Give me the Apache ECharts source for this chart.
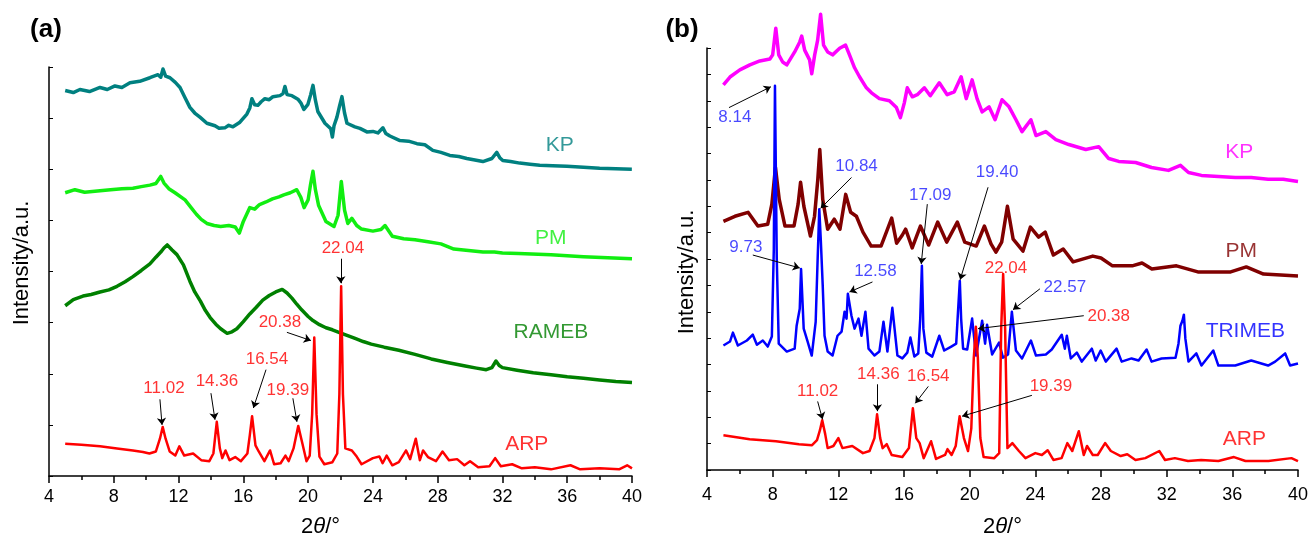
<!DOCTYPE html>
<html><head><meta charset="utf-8">
<script src="https://cdn.jsdelivr.net/npm/echarts@6/dist/echarts.min.js"></script>
<style>html,body{margin:0;padding:0;background:#fff}#c{width:1311px;height:543px}</style>
</head><body><div id="c"></div>
<script>
// ---------- DATA (2θ in degrees, intensity in a.u.) ----------
const xTicks = [4, 8, 12, 16, 20, 24, 28, 32, 36, 40];
// Panel (a)
const aKP = [[5.0,7.54],[5.5,7.5],[5.91,7.56],[6.5,7.52],[7.15,7.6],[7.6,7.56],[8.07,7.63],[8.5,7.6],[9.0,7.69],[9.6,7.72],[10.23,7.79],[10.73,7.85],[10.9,7.8],[11.04,7.96],[11.2,7.82],[11.47,7.79],[11.8,7.7],[12.09,7.6],[12.4,7.4],[12.7,7.21],[13.0,7.1],[13.32,7.02],[13.75,6.9],[14.25,6.85],[14.5,6.8],[14.86,6.81],[15.1,6.86],[15.36,6.83],[15.79,6.92],[16.22,7.08],[16.4,7.2],[16.53,7.38],[16.7,7.26],[16.9,7.25],[17.1,7.32],[17.33,7.38],[17.6,7.36],[17.83,7.42],[18.26,7.44],[18.45,7.48],[18.57,7.62],[18.7,7.46],[19.0,7.44],[19.37,7.37],[19.55,7.3],[19.74,7.17],[19.99,7.27],[20.15,7.45],[20.3,7.64],[20.45,7.35],[20.6,7.13],[21.04,6.9],[21.4,6.79],[21.5,6.63],[21.6,6.85],[21.78,7.02],[21.95,7.25],[22.09,7.42],[22.25,7.1],[22.4,6.9],[22.89,6.83],[23.2,6.8],[23.63,6.73],[24.0,6.74],[24.31,6.71],[24.62,6.81],[24.8,6.7],[25.05,6.65],[25.67,6.56],[26.2,6.55],[26.72,6.5],[27.21,6.48],[27.7,6.37],[28.2,6.33],[28.75,6.27],[29.3,6.25],[29.8,6.21],[30.3,6.18],[30.79,6.15],[31.35,6.21],[31.65,6.33],[31.85,6.22],[32.02,6.17],[32.5,6.15],[33.07,6.12],[33.7,6.1],[34.3,6.08],[35.1,6.07],[35.98,6.06],[37.0,6.04],[38.0,6.02],[39.0,6.01],[39.99,6.0]];
const aPM = [[5.0,5.54],[5.6,5.6],[6.2,5.55],[7.15,5.58],[7.8,5.6],[8.5,5.62],[9.18,5.63],[9.7,5.66],[10.23,5.69],[10.6,5.72],[10.9,5.86],[11.1,5.73],[11.4,5.62],[11.78,5.54],[12.4,5.4],[12.8,5.24],[13.1,5.12],[13.4,5.02],[13.75,4.94],[14.2,4.9],[14.6,4.88],[15.1,4.9],[15.5,4.87],[15.75,4.75],[16.0,4.98],[16.4,5.25],[16.7,5.22],[17.0,5.31],[17.4,5.36],[17.8,5.42],[18.2,5.46],[18.5,5.5],[18.9,5.54],[19.3,5.6],[19.55,5.45],[19.75,5.25],[20.0,5.4],[20.15,5.7],[20.3,5.96],[20.45,5.6],[20.65,5.29],[21.1,4.98],[21.6,4.88],[21.85,5.1],[22.05,5.76],[22.25,5.2],[22.45,4.94],[22.7,5.04],[23.0,4.9],[23.3,4.83],[24.0,4.79],[24.5,4.82],[24.75,4.9],[25.2,4.69],[25.9,4.64],[26.6,4.62],[27.4,4.58],[28.2,4.54],[29.0,4.44],[29.9,4.41],[30.8,4.38],[31.5,4.38],[32.0,4.36],[33.0,4.35],[35.0,4.33],[37.0,4.29],[38.5,4.27],[40.0,4.25]];
const aRAMEB = [[5.0,3.33],[5.5,3.45],[6.1,3.52],[6.6,3.55],[7.15,3.6],[7.7,3.64],[8.2,3.71],[8.7,3.8],[9.18,3.9],[9.7,4.02],[10.23,4.15],[10.6,4.28],[10.9,4.38],[11.1,4.46],[11.3,4.52],[11.6,4.42],[11.9,4.33],[12.3,4.13],[12.7,3.81],[13.0,3.6],[13.35,3.42],[13.65,3.24],[13.95,3.1],[14.3,2.97],[14.6,2.88],[15.0,2.79],[15.3,2.82],[15.6,2.88],[16.0,3.02],[16.4,3.17],[16.8,3.3],[17.2,3.44],[17.6,3.53],[18.0,3.6],[18.4,3.65],[18.7,3.58],[19.0,3.48],[19.3,3.36],[19.6,3.25],[20.0,3.12],[20.3,3.04],[20.7,2.96],[21.1,2.9],[21.5,2.86],[21.9,2.81],[22.4,2.75],[22.9,2.69],[23.4,2.63],[23.9,2.58],[24.7,2.52],[25.6,2.46],[26.6,2.38],[27.6,2.29],[28.6,2.22],[29.7,2.15],[30.4,2.11],[31.0,2.08],[31.35,2.12],[31.6,2.25],[31.8,2.16],[32.0,2.12],[32.9,2.07],[33.9,2.02],[35.0,1.98],[36.0,1.94],[37.0,1.91],[38.0,1.88],[39.0,1.85],[40.0,1.83]];
const aARP = [[5.0,0.63],[6.0,0.61],[7.15,0.58],[8.2,0.54],[9.18,0.5],[9.8,0.47],[10.2,0.44],[10.6,0.48],[10.85,0.73],[11.02,0.96],[11.2,0.73],[11.45,0.48],[11.8,0.4],[12.05,0.58],[12.35,0.4],[12.9,0.44],[13.4,0.31],[13.9,0.29],[14.15,0.44],[14.36,1.06],[14.55,0.54],[14.7,0.35],[14.9,0.5],[15.15,0.31],[15.5,0.37],[15.85,0.29],[16.25,0.44],[16.4,0.8],[16.54,1.17],[16.75,0.6],[16.95,0.48],[17.3,0.29],[17.65,0.5],[17.9,0.23],[18.3,0.25],[18.6,0.4],[18.8,0.29],[19.1,0.54],[19.39,0.98],[19.65,0.63],[19.9,0.29],[20.1,0.4],[20.25,1.21],[20.38,2.71],[20.52,1.21],[20.7,0.38],[21.0,0.23],[21.5,0.27],[21.8,0.44],[21.93,1.6],[22.04,3.71],[22.15,1.6],[22.3,0.54],[22.7,0.5],[23.0,0.38],[23.3,0.23],[24.0,0.35],[24.4,0.38],[24.6,0.25],[24.85,0.4],[25.2,0.21],[25.6,0.27],[26.05,0.5],[26.3,0.33],[26.65,0.73],[26.9,0.31],[27.1,0.5],[27.4,0.37],[27.9,0.29],[28.3,0.48],[28.7,0.31],[29.2,0.33],[29.65,0.21],[30.0,0.29],[30.5,0.17],[31.2,0.19],[31.55,0.35],[31.9,0.19],[32.6,0.23],[33.2,0.15],[34.0,0.17],[35.0,0.13],[36.2,0.21],[36.8,0.13],[38.0,0.15],[39.2,0.13],[39.7,0.21],[40.0,0.15]];
// Panel (b)
const bKP = [[5.0,14.6],[5.4,14.9],[6.0,15.17],[6.61,15.36],[7.22,15.51],[7.83,15.58],[8.0,15.74],[8.19,16.75],[8.37,15.74],[8.61,15.47],[8.86,15.36],[9.34,15.85],[9.65,16.23],[9.77,16.45],[9.95,15.92],[10.25,15.55],[10.38,15.02],[10.56,15.74],[10.74,16.3],[10.92,17.28],[11.1,16.11],[11.35,15.85],[11.65,15.74],[12.08,15.99],[12.44,16.11],[12.68,15.74],[12.99,15.25],[13.29,14.91],[13.71,14.49],[14.02,14.3],[14.5,14.08],[15.11,14.0],[15.54,13.74],[15.78,13.36],[16.02,13.92],[16.2,14.49],[16.51,14.15],[16.81,14.23],[17.24,14.49],[17.6,14.19],[18.15,14.68],[18.63,14.23],[19.06,14.34],[19.48,14.91],[19.79,14.08],[20.15,14.79],[20.45,14.08],[20.76,13.58],[21.18,13.77],[21.55,13.28],[21.97,14.04],[22.4,13.77],[22.82,13.28],[23.19,12.83],[23.73,13.28],[24.04,12.68],[24.64,12.83],[25.25,12.53],[26.04,12.34],[27.07,12.15],[27.86,12.26],[28.47,11.81],[29.08,11.7],[30.11,11.66],[31.08,11.47],[32.11,11.36],[32.84,11.55],[33.33,11.28],[34.12,11.17],[35.15,11.13],[36.18,11.09],[37.15,11.09],[38.18,11.02],[39.1,11.02],[40.0,10.94]];
const bPM = [[5.0,9.43],[5.7,9.62],[6.5,9.77],[7.1,9.25],[7.7,9.32],[7.95,10.08],[8.17,11.47],[8.4,10.26],[8.75,9.25],[9.3,9.25],[9.55,10.08],[9.7,10.91],[9.9,10.0],[10.3,8.87],[10.55,9.62],[10.75,11.02],[10.87,12.15],[11.05,10.26],[11.35,9.13],[11.75,9.51],[12.1,9.13],[12.45,10.45],[12.75,9.77],[13.1,9.62],[13.5,9.02],[14.0,8.49],[14.6,8.49],[14.95,9.06],[15.25,9.55],[15.55,8.6],[15.9,8.91],[16.1,9.13],[16.5,8.42],[17.0,9.25],[17.5,8.53],[18.05,9.4],[18.6,8.64],[19.25,9.4],[19.7,8.64],[20.4,8.49],[20.9,9.25],[21.3,8.57],[21.6,8.26],[21.95,8.64],[22.3,10.0],[22.65,8.75],[23.25,8.3],[23.7,9.21],[24.2,8.83],[24.6,9.02],[25.1,8.15],[25.7,8.38],[26.3,7.89],[27.5,8.11],[28.0,8.04],[28.7,7.74],[29.9,7.74],[30.5,7.85],[31.1,7.62],[32.6,7.74],[33.9,7.51],[35.9,7.51],[36.85,7.7],[37.9,7.43],[40.0,7.36]];
const bTRIMEB = [[5.0,4.72],[5.4,4.87],[5.58,5.21],[5.88,4.72],[6.43,4.91],[6.79,5.13],[7.04,4.75],[7.4,4.91],[7.7,4.68],[7.95,5.06],[8.07,8.38],[8.14,14.57],[8.25,8.0],[8.37,4.79],[8.86,4.49],[9.34,4.6],[9.46,5.47],[9.65,6.11],[9.73,7.62],[9.89,5.36],[10.13,4.87],[10.38,4.34],[10.62,5.62],[10.74,8.0],[10.84,9.89],[10.93,8.75],[11.05,6.98],[11.16,5.09],[11.35,4.49],[11.65,4.34],[11.95,5.09],[12.2,5.25],[12.38,6.0],[12.5,5.74],[12.58,6.68],[12.8,5.85],[12.99,5.36],[13.23,5.74],[13.41,5.09],[13.65,6.0],[13.84,4.6],[14.2,4.34],[14.5,4.49],[14.75,5.62],[14.99,4.49],[15.29,6.15],[15.6,4.34],[15.9,4.23],[16.2,4.45],[16.39,5.02],[16.63,4.3],[16.87,4.42],[16.99,5.74],[17.09,7.74],[17.18,5.36],[17.36,4.45],[17.72,4.3],[18.15,5.09],[18.45,4.53],[18.88,4.68],[19.18,4.79],[19.3,6.11],[19.4,7.17],[19.48,5.74],[19.6,4.6],[19.85,4.57],[20.15,5.74],[20.39,4.34],[20.76,5.66],[20.94,4.79],[21.06,5.51],[21.37,4.38],[21.79,4.83],[22.03,4.26],[22.34,4.38],[22.57,6.0],[22.82,4.53],[23.19,4.23],[23.73,4.91],[24.04,4.34],[24.64,4.38],[25.0,4.57],[25.61,5.13],[25.8,4.6],[25.92,5.09],[26.16,4.23],[26.53,4.45],[26.83,4.11],[27.44,4.6],[27.68,4.15],[27.98,4.53],[28.29,4.11],[28.95,4.6],[29.26,4.11],[29.86,4.23],[30.29,4.15],[30.78,4.57],[31.08,4.11],[31.69,4.23],[32.54,4.26],[32.72,4.79],[32.84,5.47],[32.96,5.66],[33.05,5.89],[33.14,4.98],[33.33,4.11],[33.81,4.42],[34.12,3.96],[34.84,4.53],[35.15,3.96],[36.18,3.96],[37.15,4.15],[38.18,3.96],[38.61,4.11],[39.22,4.42],[39.52,3.96],[40.0,4.04]];
const bARP = [[5.0,1.32],[6.6,1.17],[8.2,1.09],[9.6,0.98],[10.4,0.94],[10.7,1.13],[10.88,1.51],[11.02,1.89],[11.2,1.36],[11.35,0.83],[11.7,0.91],[12.0,1.21],[12.25,0.83],[12.85,0.91],[13.5,0.64],[13.9,0.72],[14.2,1.21],[14.36,2.11],[14.55,1.21],[14.7,0.83],[14.95,0.98],[15.25,0.57],[15.9,0.49],[16.3,0.83],[16.54,2.34],[16.75,1.21],[16.95,1.02],[17.2,0.45],[17.65,1.09],[17.95,0.42],[18.5,0.57],[18.65,0.79],[18.9,0.57],[19.15,0.91],[19.39,2.04],[19.65,1.21],[19.9,0.72],[20.1,1.58],[20.25,4.23],[20.38,5.43],[20.5,4.23],[20.65,1.21],[20.85,0.49],[21.5,0.45],[21.8,0.64],[21.92,5.36],[22.04,7.43],[22.16,5.36],[22.3,0.83],[22.6,1.02],[23.0,0.72],[23.4,0.45],[24.0,0.64],[24.4,0.57],[24.75,0.75],[25.1,0.38],[25.6,0.45],[25.95,1.02],[26.25,0.72],[26.65,1.47],[26.95,0.57],[27.15,0.91],[27.5,0.57],[27.8,0.57],[28.25,1.02],[28.6,0.72],[29.2,0.53],[29.6,0.6],[30.1,0.38],[30.7,0.45],[31.55,0.72],[31.9,0.38],[32.5,0.45],[33.3,0.34],[34.1,0.38],[35.15,0.34],[36.1,0.49],[36.8,0.34],[38.2,0.34],[39.6,0.45],[40.0,0.34]];
// Peak annotations: [label x, label y, text], arrows: [x1, y1, x2, y2]
const aPeakLabels = [[11.1,1.71,'11.02'],[14.37,1.85,'14.36'],[17.46,2.29,'16.54'],[18.75,1.67,'19.39'],[18.26,3.0,'20.38'],[22.15,4.46,'22.04']];
const aPeakArrows = [[10.85,1.5,10.98,1.0],[14.0,1.62,14.25,1.1],[17.4,2.08,16.62,1.33],[19.06,1.52,19.31,1.06],[18.69,2.81,20.17,2.65],[22.02,4.25,22.02,3.77]];
const bBlueLabels = [[5.7,13.36,'8.14'],[13.11,11.51,'10.84'],[6.37,8.45,'9.73'],[14.26,7.55,'12.58'],[17.6,10.42,'17.09'],[21.67,11.28,'19.40'],[25.8,6.91,'22.57']];
const bRedLabels = [[22.21,7.66,'22.04'],[28.47,5.81,'20.38'],[24.95,3.17,'19.39'],[10.74,2.98,'11.02'],[14.44,3.62,'14.36'],[17.48,3.55,'16.54']];
const bPeakArrows = [[5.34,13.74,7.89,14.53],[12.8,11.09,10.92,9.92],[6.79,8.15,9.65,7.66],[14.08,7.13,12.68,6.75],[17.42,10.08,17.05,7.81],[21.12,10.72,19.42,7.21],[24.28,6.87,22.64,6.08],[26.95,5.85,20.51,5.36],[23.79,2.83,19.54,2.04],[10.74,2.6,11.04,1.92],[14.38,3.25,14.38,2.23],[17.48,3.17,16.69,2.53]];
const aNames = [[35.54,6.48,'KP'],[34.99,4.65,'PM'],[34.99,2.81,'RAMEB'],[33.5,0.63,'ARP']];
const bNames = [[36.42,12.04,'KP'],[36.54,8.3,'PM'],[36.79,5.25,'TRIMEB'],[36.73,1.17,'ARP']];

// ---------- STYLE ----------
const FONT = 'Liberation Sans, Arial, sans-serif';
const aColors = ['#008080', '#11ee11', '#008000', '#ff0000'];
const bColors = ['#ff00ff', '#800000', '#0000ff', '#ff0000'];

function xAxis(gi, margin, gap, pad) {
  return {
    type: 'value', gridIndex: gi, min: 4, max: 40, interval: 4,
    axisLine: { show: true, onZero: false, lineStyle: { color: '#000', width: 1.5 } },
    axisTick: { show: true, inside: false, length: 7, lineStyle: { color: '#000', width: 1.5 } },
    minorTick: { show: true, splitNumber: 2, length: 4, lineStyle: { color: '#000', width: 1.5 } },
    splitLine: { show: false },
    axisLabel: { color: '#000', fontSize: 18, fontFamily: FONT, margin: margin,
      formatter: v => xTicks.indexOf(v) >= 0 ? String(v) : '' },
    name: '{n|2}{i|θ}{n|/°}', nameLocation: 'middle', nameGap: gap,
    nameTextStyle: { padding: pad, rich: {
      n: { fontSize: 22, fontFamily: FONT, color: '#000' },
      i: { fontSize: 22, fontFamily: FONT, fontStyle: 'italic', color: '#000' } } }
  };
}
function yAxis(gi, max) {
  return {
    type: 'value', gridIndex: gi, min: 0, max: max, interval: 1,
    axisLine: { show: true, onZero: false, lineStyle: { color: '#000', width: 1.5 } },
    axisTick: { show: true, inside: true, length: 4, lineStyle: { color: '#000', width: 1 } },
    axisLabel: { show: false }, splitLine: { show: false }
  };
}
function curve(name, data, gi, color, w) {
  return { name, type: 'line', xAxisIndex: gi, yAxisIndex: gi, data, showSymbol: false,
    symbol: 'none', clip: false, lineStyle: { color, width: w, join: 'round' }, itemStyle: { color }, z: 3, animation: false };
}
function texts(list, gi, colors, size) {
  return { type: 'scatter', xAxisIndex: gi, yAxisIndex: gi, symbolSize: 0, clip: false, animation: false, z: 6,
    data: list.map((d, i) => ({ value: [d[0], d[1]], name: d[2],
      label: { color: Array.isArray(colors) ? colors[i] : colors } })),
    label: { show: true, position: 'inside', formatter: '{b}', fontSize: size, fontFamily: FONT },
    tooltip: { show: false }, silent: true };
}
function arrows(list, gi) {
  return { type: 'lines', coordinateSystem: 'cartesian2d', xAxisIndex: gi, yAxisIndex: gi, z: 5,
    symbol: ['none', 'arrow'], symbolSize: 7, animation: false, silent: true,
    lineStyle: { color: '#000', width: 1, opacity: 1 },
    data: list.map(d => ({ coords: [[d[0], d[1]], [d[2], d[3]]] })) };
}

const chart = echarts.init(document.getElementById('c'), null, { renderer: 'canvas' });
chart.setOption({
  backgroundColor: '#fff',
  animation: false,
  grid: [
    { left: 49, top: 67, width: 583, bottom: 60 },
    { left: 707, top: 48, width: 593, bottom: 71 }
  ],
  xAxis: [xAxis(0, 12, 40, [0, 40, 0, 0]), xAxis(1, 16, 46, 0)],
  yAxis: [yAxis(0, 8), yAxis(1, 16)],
  series: [
    curve('KP', aKP, 0, aColors[0], 3.5),
    curve('PM', aPM, 0, aColors[1], 3.5),
    curve('RAMEB', aRAMEB, 0, aColors[2], 3.5),
    curve('ARP', aARP, 0, aColors[3], 2.5),
    curve('KP', bKP, 1, bColors[0], 3.5),
    curve('PM', bPM, 1, bColors[1], 3.5),
    curve('TRIMEB', bTRIMEB, 1, bColors[2], 2.5),
    curve('ARP', bARP, 1, bColors[3], 2.5),
    arrows(aPeakArrows, 0),
    arrows(bPeakArrows, 1),
    texts(aPeakLabels, 0, '#ff0000', 17),
    texts(bBlueLabels, 1, '#1a1aff', 17),
    texts(bRedLabels, 1, '#ff0000', 17),
    texts(aNames, 0, aColors, 21),
    texts(bNames, 1, bColors, 21)
  ],
  graphic: [
    { type: 'text', x: 46, y: 30, style: { text: '(a)', font: 'bold 26px ' + FONT, fill: '#000', textAlign: 'center', textVerticalAlign: 'middle' } },
    { type: 'text', x: 682, y: 30, style: { text: '(b)', font: 'bold 26px ' + FONT, fill: '#000', textAlign: 'center', textVerticalAlign: 'middle' } },
    { type: 'text', x: 22, y: 263, rotation: Math.PI / 2, style: { text: 'Intensity/a.u.', font: '22px ' + FONT, fill: '#000', textAlign: 'center', textVerticalAlign: 'middle' } },
    { type: 'text', x: 687, y: 272, rotation: Math.PI / 2, style: { text: 'Intensity/a.u.', font: '22px ' + FONT, fill: '#000', textAlign: 'center', textVerticalAlign: 'middle' } }
  ]
});
</script></body></html>
